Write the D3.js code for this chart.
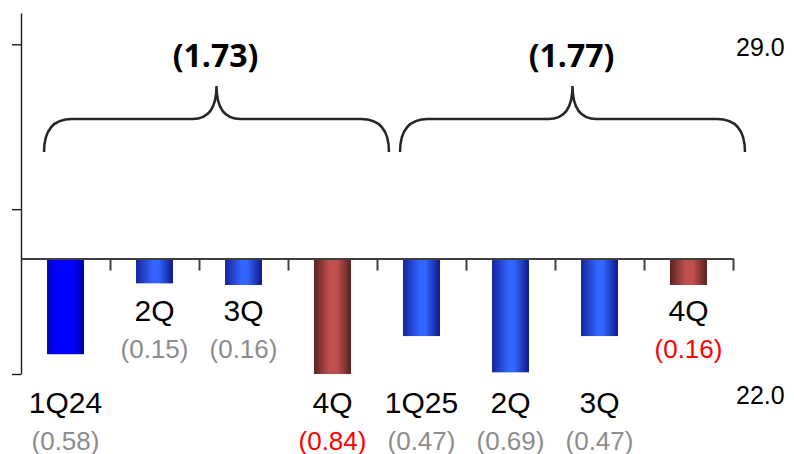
<!DOCTYPE html>
<html>
<head>
<meta charset="utf-8">
<script src="https://cdn.jsdelivr.net/npm/d3@7"></script>
<style>
  body { margin: 0; background: #fff; }
  svg { display: block; }
</style>
</head>
<body>
<div id="chart"></div>
<script>
// Quarterly bars with two bracket totals above them.

// Data
const quarters = ["1Q24", "2Q24", "3Q24", "4Q24", "1Q25", "2Q25", "3Q25", "4Q25"];
const quarterLabels = ["1Q24", "2Q", "3Q", "4Q", "1Q25", "2Q", "3Q", "4Q"];
const values = [-0.58, -0.15, -0.16, -0.84, -0.47, -0.69, -0.47, -0.16];
const groups = [["1Q24", "4Q24"], ["1Q25", "4Q25"]];
const groupTotals = [-1.73, -1.77];
const rightTicks = [22.0, 29.0];

const width = 794;
const height = 454;

const svg = d3.select("#chart").append("svg")
  .attr("width", width)
  .attr("height", height);

// Gradients for the cylinder look of the bars
const defs = svg.append("defs");
function addGradient(id, stops) {
  const g = defs.append("linearGradient")
    .attr("id", id)
    .attr("x1", "0%").attr("x2", "100%")
    .attr("y1", "0%").attr("y2", "0%");
  stops.forEach(s => g.append("stop").attr("offset", s[0]).attr("stop-color", s[1]));
}
addGradient("gBright", [["0%", "#0008a8"], ["22%", "#0000ff"], ["72%", "#0000ff"], ["100%", "#00009a"]]);
addGradient("gBlue", [["0%", "#14249a"], ["45%", "#3366ff"], ["60%", "#3366ff"], ["100%", "#0c1888"]]);
addGradient("gRed", [["0%", "#5a2020"], ["42%", "#c0504d"], ["62%", "#c0504d"], ["100%", "#5a2020"]]);

function barFill(q) {
  if (q.startsWith("4Q")) return "url(#gRed)";
  if (q === "1Q24") return "url(#gBright)";
  return "url(#gBlue)";
}

// Scales
const x = d3.scaleBand()
  .domain(quarters)
  .range([21, 733])
  .paddingInner(0.585)
  .paddingOuter(0.2925);

const xEdge = d3.scaleLinear()
  .domain([0, quarters.length])
  .range([21, 733]);

const y = d3.scaleLinear()
  .domain([-0.7, 1.49])
  .range([374, 13])
  .clamp(true);

const y2 = d3.scaleLinear()
  .domain([22, 29])
  .range([395, 47]);

// Bars
svg.selectAll(".bar")
  .data(quarters)
  .enter().append("rect")
  .attr("class", "bar")
  .attr("x", d => x(d))
  .attr("y", y(0))
  .attr("width", x.bandwidth())
  .attr("height", (d, i) => y(values[i]) - y(0))
  .attr("fill", d => barFill(d));

// Left axis, ticks only
svg.append("g")
  .attr("transform", "translate(21,0)")
  .call(d3.axisLeft(y).tickValues([-0.7, 0.3, 1.3]).tickSize(9).tickSizeOuter(0).tickFormat(""))
  .call(g => g.selectAll("path, line").attr("stroke", "#1a1a1a").attr("stroke-width", 1.4));

// Zero line with category separators
svg.append("g")
  .attr("transform", `translate(0,${y(0)})`)
  .call(d3.axisBottom(xEdge).tickValues(d3.range(1, quarters.length + 1)).tickSize(12).tickSizeOuter(0).tickFormat(""))
  .call(g => g.selectAll("path, line").attr("stroke", "#404040").attr("stroke-width", 2));

// Right-side labels
svg.append("g")
  .attr("transform", "translate(736,0)")
  .call(d3.axisRight(y2).tickValues(rightTicks).tickSize(0).tickPadding(0).tickFormat(d3.format(".1f")))
  .call(g => g.select(".domain").remove())
  .call(g => g.selectAll("text")
    .attr("font-family", "Liberation Sans, Arial, sans-serif")
    .attr("font-size", 25)
    .attr("fill", "#000"));

// Category and value labels
const nearLabel = y(0) + 62;
const farLabel = y(-0.7) + 39;
function labelBase(i) {
  return Math.abs(values[i]) < 0.3 ? nearLabel : farLabel;
}

svg.selectAll(".qlabel")
  .data(quarters)
  .enter().append("text")
  .attr("class", "qlabel")
  .attr("x", d => x(d) + x.bandwidth() / 2)
  .attr("y", (d, i) => labelBase(i))
  .attr("text-anchor", "middle")
  .attr("font-family", "Liberation Sans, Arial, sans-serif")
  .attr("font-size", 30)
  .attr("fill", "#000")
  .text((d, i) => quarterLabels[i]);

svg.selectAll(".vlabel")
  .data(quarters)
  .enter().append("text")
  .attr("class", "vlabel")
  .attr("x", d => x(d) + x.bandwidth() / 2)
  .attr("y", (d, i) => labelBase(i) + 37)
  .attr("text-anchor", "middle")
  .attr("font-family", "Liberation Sans, Arial, sans-serif")
  .attr("font-size", 26)
  .attr("fill", d => d.startsWith("4Q") ? "#ff0000" : "#8c8c8c")
  .text((d, i) => `(${Math.abs(values[i]).toFixed(2)})`);

// Curly brackets over each year
const braceEnd = 152;
const braceMid = 119;
const bracePeak = 86;

groups.forEach((grp, i) => {
  const x0 = x(grp[0]) - 3;
  const x1 = x(grp[1]) + x.bandwidth() + 38;
  const xm = (x0 + x1) / 2;
  const r = 28;
  const c = 24;
  const p = d3.path();
  p.moveTo(x0, braceEnd);
  p.quadraticCurveTo(x0, braceMid, x0 + r, braceMid);
  p.lineTo(xm - c, braceMid);
  p.quadraticCurveTo(xm, braceMid, xm, bracePeak);
  p.quadraticCurveTo(xm, braceMid, xm + c, braceMid);
  p.lineTo(x1 - r, braceMid);
  p.quadraticCurveTo(x1, braceMid, x1, braceEnd);

  svg.append("path")
    .attr("d", p.toString())
    .attr("fill", "none")
    .attr("stroke", "#262626")
    .attr("stroke-width", 2.5);

  svg.append("text")
    .attr("x", xm - 1)
    .attr("y", 67)
    .attr("text-anchor", "middle")
    .attr("font-family", "Open Sans, sans-serif")
    .attr("font-weight", "bold")
    .attr("font-size", 32)
    .attr("fill", "#000")
    .text(`(${Math.abs(groupTotals[i]).toFixed(2)})`);
});
</script>
</body>
</html>
